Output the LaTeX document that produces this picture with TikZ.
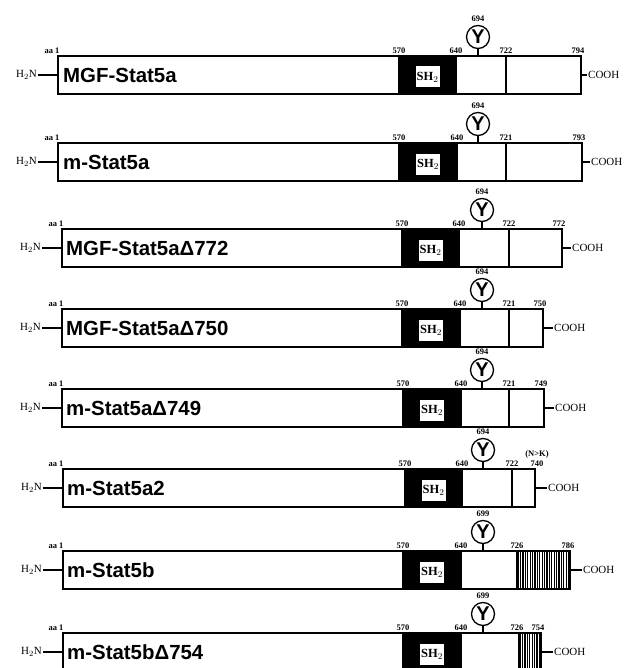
\documentclass[tikz,border=0pt]{standalone}
\usepackage{fontspec}
\setmainfont{Liberation Serif}
\newfontfamily\arialfont{Liberation Sans}
\usetikzlibrary{positioning}
\tikzset{
  seg/.style={rectangle, draw=black, line width=1.3bp, minimum height=38bp,
              inner sep=0pt, outer sep=0pt, anchor=north west},
  shbox/.style={seg, fill=black},
  hatch/.style={seg, path picture={
      \foreach \i in {0,...,30}
        \draw[line width=1.1bp] ([xshift=\i*2.4bp+1.2bp]path picture bounding box.south west)
          -- ([xshift=\i*2.4bp+1.2bp]path picture bounding box.north west);}},
  shtag/.style={rectangle, fill=white, minimum width=24bp, minimum height=21bp,
                inner sep=0pt, font=\bfseries\fontsize{12.5}{12.5}\selectfont},
  pname/.style={anchor=west, inner sep=0pt, font=\arialfont\bfseries\fontsize{20.5}{20.5}\selectfont},
  posnum/.style={anchor=south, inner sep=0pt, yshift=2bp, font=\bfseries\fontsize{8.5}{8.5}\selectfont},
  tyr/.style={circle, draw=black, line width=1.3bp, minimum size=23bp, inner sep=0pt,
              font=\arialfont\bfseries\fontsize{20}{20}\selectfont},
  term/.style={inner sep=1pt, font=\fontsize{11}{11}\selectfont},
  link/.style={line width=1.3bp},
}

\begin{document}
\begin{tikzpicture}[x=1bp, y=-1bp]
  \useasboundingbox (0,0) rectangle (627,668);

  % MGF-Stat5a
  \node[seg, minimum width=341bp] (r1a) at (58,56) {};
  \node[shbox, minimum width=57bp] (r1b) at (399,56) {};
  \node[seg, minimum width=50bp] (r1c) at (456,56) {};
  \node[seg, minimum width=75bp] (r1d) at (506,56) {};
  \node[shtag] (r1s) at ([yshift=-2bp]r1b.center) {SH$_2$};
  \node[pname] (r1n) at ([xshift=5bp]r1a.west) {MGF-Stat5a};
  \node[tyr] (r1y) at (478,37) {Y};
  \node[posnum, above=1bp of r1y] (r1p) {694};
  \node[posnum] (r1aa) at ([xshift=-6bp]r1a.north west) {aa 1};
  \node[posnum] (r1k1) at (r1b.north west) {570};
  \node[posnum] (r1k2) at (r1c.north west) {640};
  \node[posnum] (r1k3) at (r1d.north west) {722};
  \node[posnum] (r1k4) at ([xshift=-3bp]r1d.north east) {794};
  \node[term, left=20bp of r1a.west] (r1h) {H$_2$N};
  \node[term, right=6bp of r1d.east] (r1t) {COOH};
  \draw[link] (r1h) -- (r1a.west);
  \draw[link] (r1d.east) -- (r1t);
  \draw[link] (r1y) -- (r1y |- r1c.north);

  % m-Stat5a
  \node[seg, minimum width=341bp] (r2a) at (58,143) {};
  \node[shbox, minimum width=58bp] (r2b) at (399,143) {};
  \node[seg, minimum width=49bp] (r2c) at (457,143) {};
  \node[seg, minimum width=76bp] (r2d) at (506,143) {};
  \node[shtag] (r2s) at ([yshift=-2bp]r2b.center) {SH$_2$};
  \node[pname] (r2n) at ([xshift=5bp]r2a.west) {m-Stat5a};
  \node[tyr] (r2y) at (478,124) {Y};
  \node[posnum, above=1bp of r2y] (r2p) {694};
  \node[posnum] (r2aa) at ([xshift=-6bp]r2a.north west) {aa 1};
  \node[posnum] (r2k1) at (r2b.north west) {570};
  \node[posnum] (r2k2) at (r2c.north west) {640};
  \node[posnum] (r2k3) at (r2d.north west) {721};
  \node[posnum] (r2k4) at ([xshift=-3bp]r2d.north east) {793};
  \node[term, left=20bp of r2a.west] (r2h) {H$_2$N};
  \node[term, right=8bp of r2d.east] (r2t) {COOH};
  \draw[link] (r2h) -- (r2a.west);
  \draw[link] (r2d.east) -- (r2t);
  \draw[link] (r2y) -- (r2y |- r2c.north);

  % MGF-Stat5a delta 772
  \node[seg, minimum width=340bp] (r3a) at (62,229) {};
  \node[shbox, minimum width=57bp] (r3b) at (402,229) {};
  \node[seg, minimum width=50bp] (r3c) at (459,229) {};
  \node[seg, minimum width=53bp] (r3d) at (509,229) {};
  \node[shtag] (r3s) at ([yshift=-2bp]r3b.center) {SH$_2$};
  \node[pname] (r3n) at ([xshift=4bp]r3a.west) {MGF-Stat5aΔ772};
  \node[tyr] (r3y) at (482,210) {Y};
  \node[posnum, above=1bp of r3y] (r3p) {694};
  \node[posnum] (r3aa) at ([xshift=-6bp]r3a.north west) {aa 1};
  \node[posnum] (r3k1) at (r3b.north west) {570};
  \node[posnum] (r3k2) at (r3c.north west) {640};
  \node[posnum] (r3k3) at (r3d.north west) {722};
  \node[posnum] (r3k4) at ([xshift=-3bp]r3d.north east) {772};
  \node[term, left=20bp of r3a.west] (r3h) {H$_2$N};
  \node[term, right=9bp of r3d.east] (r3t) {COOH};
  \draw[link] (r3h) -- (r3a.west);
  \draw[link] (r3d.east) -- (r3t);
  \draw[link] (r3y) -- (r3y |- r3c.north);

  % MGF-Stat5a delta 750
  \node[seg, minimum width=340bp] (r4a) at (62,309) {};
  \node[shbox, minimum width=58bp] (r4b) at (402,309) {};
  \node[seg, minimum width=49bp] (r4c) at (460,309) {};
  \node[seg, minimum width=34bp] (r4d) at (509,309) {};
  \node[shtag] (r4s) at ([yshift=-2bp]r4b.center) {SH$_2$};
  \node[pname] (r4n) at ([xshift=4bp]r4a.west) {MGF-Stat5aΔ750};
  \node[tyr] (r4y) at (482,290) {Y};
  \node[posnum, above=1bp of r4y] (r4p) {694};
  \node[posnum] (r4aa) at ([xshift=-6bp]r4a.north west) {aa 1};
  \node[posnum] (r4k1) at (r4b.north west) {570};
  \node[posnum] (r4k2) at (r4c.north west) {640};
  \node[posnum] (r4k3) at (r4d.north west) {721};
  \node[posnum] (r4k4) at ([xshift=-3bp]r4d.north east) {750};
  \node[term, left=20bp of r4a.west] (r4h) {H$_2$N};
  \node[term, right=10bp of r4d.east] (r4t) {COOH};
  \draw[link] (r4h) -- (r4a.west);
  \draw[link] (r4d.east) -- (r4t);
  \draw[link] (r4y) -- (r4y |- r4c.north);

  % m-Stat5a delta 749
  \node[seg, minimum width=341bp] (r5a) at (62,389) {};
  \node[shbox, minimum width=58bp] (r5b) at (403,389) {};
  \node[seg, minimum width=48bp] (r5c) at (461,389) {};
  \node[seg, minimum width=35bp] (r5d) at (509,389) {};
  \node[shtag] (r5s) at ([yshift=-2bp]r5b.center) {SH$_2$};
  \node[pname] (r5n) at ([xshift=4bp]r5a.west) {m-Stat5aΔ749};
  \node[tyr] (r5y) at (482,370) {Y};
  \node[posnum, above=1bp of r5y] (r5p) {694};
  \node[posnum] (r5aa) at ([xshift=-6bp]r5a.north west) {aa 1};
  \node[posnum] (r5k1) at (r5b.north west) {570};
  \node[posnum] (r5k2) at (r5c.north west) {640};
  \node[posnum] (r5k3) at (r5d.north west) {721};
  \node[posnum] (r5k4) at ([xshift=-3bp]r5d.north east) {749};
  \node[term, left=20bp of r5a.west] (r5h) {H$_2$N};
  \node[term, right=10bp of r5d.east] (r5t) {COOH};
  \draw[link] (r5h) -- (r5a.west);
  \draw[link] (r5d.east) -- (r5t);
  \draw[link] (r5y) -- (r5y |- r5c.north);

  % m-Stat5a2
  \node[seg, minimum width=342bp] (r6a) at (63,469) {};
  \node[shbox, minimum width=57bp] (r6b) at (405,469) {};
  \node[seg, minimum width=50bp] (r6c) at (462,469) {};
  \node[seg, minimum width=23bp] (r6d) at (512,469) {};
  \node[shtag] (r6s) at ([yshift=-2bp]r6b.center) {SH$_2$};
  \node[pname] (r6n) at ([xshift=4bp]r6a.west) {m-Stat5a2};
  \node[tyr] (r6y) at (483,450) {Y};
  \node[posnum, above=1bp of r6y] (r6p) {694};
  \node[posnum] (r6aa) at ([xshift=-7bp]r6a.north west) {aa 1};
  \node[posnum] (r6k1) at (r6b.north west) {570};
  \node[posnum] (r6k2) at (r6c.north west) {640};
  \node[posnum] (r6k3) at (r6d.north west) {722};
  \node[posnum] (r6k4) at ([xshift=2bp]r6d.north east) {740};
  \node[posnum, above=0bp of r6k4] (r6m) {(N>K)};
  \node[term, left=20bp of r6a.west] (r6h) {H$_2$N};
  \node[term, right=12bp of r6d.east] (r6t) {COOH};
  \draw[link] (r6h) -- (r6a.west);
  \draw[link] (r6d.east) -- (r6t);
  \draw[link] (r6y) -- (r6y |- r6c.north);

  % m-Stat5b
  \node[seg, minimum width=340bp] (r7a) at (63,551) {};
  \node[shbox, minimum width=58bp] (r7b) at (403,551) {};
  \node[seg, minimum width=56bp] (r7c) at (461,551) {};
  \node[hatch, minimum width=53bp] (r7d) at (517,551) {};
  \node[shtag] (r7s) at ([yshift=-2bp]r7b.center) {SH$_2$};
  \node[pname] (r7n) at ([xshift=4bp]r7a.west) {m-Stat5b};
  \node[tyr] (r7y) at (483,532) {Y};
  \node[posnum, above=1bp of r7y] (r7p) {699};
  \node[posnum] (r7aa) at ([xshift=-7bp]r7a.north west) {aa 1};
  \node[posnum] (r7k1) at (r7b.north west) {570};
  \node[posnum] (r7k2) at (r7c.north west) {640};
  \node[posnum] (r7k3) at (r7d.north west) {726};
  \node[posnum] (r7k4) at ([xshift=-2bp]r7d.north east) {786};
  \node[term, left=20bp of r7a.west] (r7h) {H$_2$N};
  \node[term, right=12bp of r7d.east] (r7t) {COOH};
  \draw[link] (r7h) -- (r7a.west);
  \draw[link] (r7d.east) -- (r7t);
  \draw[link] (r7y) -- (r7y |- r7c.north);

  % m-Stat5b delta 754
  \node[seg, minimum width=340bp] (r8a) at (63,633) {};
  \node[shbox, minimum width=58bp] (r8b) at (403,633) {};
  \node[seg, minimum width=58bp] (r8c) at (461,633) {};
  \node[hatch, minimum width=22bp] (r8d) at (519,633) {};
  \node[shtag] (r8s) at ([yshift=-2bp]r8b.center) {SH$_2$};
  \node[pname] (r8n) at ([xshift=4bp]r8a.west) {m-Stat5bΔ754};
  \node[tyr] (r8y) at (483,614) {Y};
  \node[posnum, above=1bp of r8y] (r8p) {699};
  \node[posnum] (r8aa) at ([xshift=-7bp]r8a.north west) {aa 1};
  \node[posnum] (r8k1) at (r8b.north west) {570};
  \node[posnum] (r8k2) at (r8c.north west) {640};
  \node[posnum] (r8k3) at ([xshift=-2bp]r8d.north west) {726};
  \node[posnum] (r8k4) at ([xshift=-3bp]r8d.north east) {754};
  \node[term, left=20bp of r8a.west] (r8h) {H$_2$N};
  \node[term, right=12bp of r8d.east] (r8t) {COOH};
  \draw[link] (r8h) -- (r8a.west);
  \draw[link] (r8d.east) -- (r8t);
  \draw[link] (r8y) -- (r8y |- r8c.north);

\end{tikzpicture}
\end{document}
